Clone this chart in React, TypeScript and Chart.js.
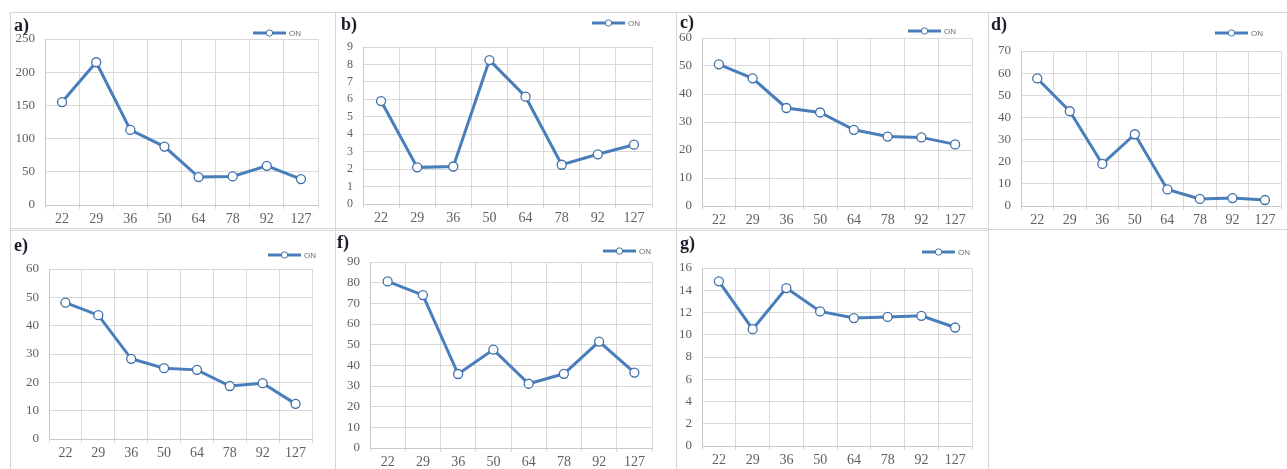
import React, { useEffect, useRef } from "react";
import { Chart, registerables } from "chart.js";

Chart.register(...registerables);

// Shared category axis and series name
const categories = ["22", "29", "36", "50", "64", "78", "92", "127"];
const seriesName = "ON";

// Series values, one array per panel
const valuesA = [155, 215, 113, 88, 42, 43, 59, 39];
const valuesB = [5.9, 2.1, 2.15, 8.25, 6.15, 2.25, 2.85, 3.4];
const valuesC = [50.6, 45.6, 35.0, 33.4, 27.2, 24.8, 24.5, 22.0];
const valuesD = [57.6, 42.8, 19.0, 32.4, 7.5, 3.2, 3.6, 2.7];
const valuesE = [48.1, 43.7, 28.3, 25.0, 24.4, 18.7, 19.7, 12.4];
const valuesF = [80.6, 74.0, 35.8, 47.6, 31.1, 35.9, 51.5, 36.5];
const valuesG = [14.8, 10.5, 14.2, 12.1, 11.5, 11.6, 11.7, 10.65];

const panelLabels = ["a)", "b)", "c)", "d)", "e)", "f)", "g)"];
const panelValues = [valuesA, valuesB, valuesC, valuesD, valuesE, valuesF, valuesG];
const axisMax = [250, 9, 60, 70, 60, 90, 16];
const axisStep = [50, 1, 10, 10, 10, 10, 2];

// Page geometry of each panel: box, plot area [left, top, right, bottom],
// legend start point and panel label baseline
type Geo = {
  x: number; y: number; w: number; h: number;
  plot: [number, number, number, number];
  legend: [number, number];
  label: [number, number];
};

const geometry: Geo[] = [
  { x: 10, y: 12, w: 325, h: 217, plot: [45, 39, 318, 205], legend: [253, 33], label: [14, 31] },
  { x: 335, y: 12, w: 341, h: 217, plot: [363, 47, 652, 204], legend: [592, 23], label: [341, 30] },
  { x: 676, y: 12, w: 312, h: 217, plot: [702, 38, 972, 206], legend: [908, 31], label: [680, 28] },
  { x: 988, y: 12, w: 299, h: 217, plot: [1021, 51, 1282, 206], legend: [1215, 33], label: [991, 30] },
  { x: 10, y: 230, w: 325, h: 239, plot: [49, 269, 312, 439], legend: [268, 255], label: [14, 251] },
  { x: 335, y: 230, w: 341, h: 239, plot: [370, 262, 652, 448], legend: [603, 251], label: [337, 248] },
  { x: 676, y: 230, w: 312, h: 239, plot: [702, 268, 972, 446], legend: [922, 252], label: [680, 249] },
];

const LINE = "#4a7ebb";
const MARKER_EDGE = "#3f6fa8";
const GRID = "#d9d9d9";
const TICK = "#5f5f5f";

function makeConfig(i: number): any {
  const g = geometry[i];
  const [pl, pt, pr, pb] = g.plot;
  const padLeft = 2;
  const yAxisW = pl - g.x - padLeft;
  const padTop = pt - g.y;
  const padRight = g.x + g.w - pr;
  const xAxisH = g.y + g.h - pb;

  const panelDecor = {
    id: "panelDecor",
    afterDraw(chart: any) {
      const ctx = chart.ctx as CanvasRenderingContext2D;
      ctx.save();
      // panel label
      ctx.font = "bold 18px 'Liberation Serif', serif";
      ctx.fillStyle = "#1c1c2c";
      ctx.textAlign = "left";
      ctx.textBaseline = "alphabetic";
      ctx.fillText(panelLabels[i], g.label[0] - g.x, g.label[1] - g.y);
      // legend entry: line with marker, then series name
      const lx = g.legend[0] - g.x;
      const ly = g.legend[1] - g.y;
      ctx.strokeStyle = LINE;
      ctx.lineWidth = 3;
      ctx.beginPath();
      ctx.moveTo(lx, ly);
      ctx.lineTo(lx + 33, ly);
      ctx.stroke();
      ctx.beginPath();
      ctx.arc(lx + 16.5, ly, 3.2, 0, Math.PI * 2);
      ctx.fillStyle = "#ffffff";
      ctx.fill();
      ctx.lineWidth = 1;
      ctx.strokeStyle = MARKER_EDGE;
      ctx.stroke();
      ctx.font = "8px 'Liberation Sans', sans-serif";
      ctx.fillStyle = "#707070";
      ctx.textBaseline = "middle";
      ctx.fillText(seriesName, lx + 36, ly + 0.5);
      ctx.restore();
    },
  };

  return {
    type: "line",
    data: {
      labels: categories,
      datasets: [
        {
          label: seriesName,
          data: panelValues[i],
          borderColor: LINE,
          borderWidth: 3,
          tension: 0,
          pointRadius: 4.5,
          pointBorderWidth: 1.3,
          pointBackgroundColor: "#ffffff",
          pointBorderColor: MARKER_EDGE,
        },
      ],
    },
    options: {
      animation: false,
      responsive: false,
      maintainAspectRatio: false,
      devicePixelRatio: 1,
      layout: { padding: { left: padLeft, top: padTop, right: padRight, bottom: 0 } },
      plugins: {
        legend: { display: false },
        tooltip: { enabled: false },
        title: { display: false },
      },
      scales: {
        x: {
          type: "category",
          offset: true,
          afterFit: (s: any) => { s.height = xAxisH; },
          grid: { offset: true, color: GRID, drawTicks: true, tickLength: 4, tickColor: GRID },
          border: { color: "#c8c8c8" },
          ticks: {
            color: TICK,
            font: { family: "'Liberation Serif', serif", size: 14 },
            padding: 2,
            maxRotation: 0,
            autoSkip: false,
          },
        },
        y: {
          min: 0,
          max: axisMax[i],
          afterFit: (s: any) => { s.width = yAxisW; },
          grid: { color: GRID, drawTicks: false },
          border: { color: "#c8c8c8" },
          ticks: {
            stepSize: axisStep[i],
            color: TICK,
            font: { family: "'Liberation Serif', serif", size: i === 1 ? 12 : 13 },
            padding: 10,
          },
        },
      },
    },
    plugins: [panelDecor],
  };
}

function Panel({ index }: { index: number }) {
  const ref = useRef<HTMLCanvasElement | null>(null);
  const g = geometry[index];
  useEffect(() => {
    if (!ref.current) return;
    const chart = new Chart(ref.current, makeConfig(index));
    return () => chart.destroy();
  }, [index]);
  return (
    <canvas
      ref={ref}
      width={g.w}
      height={g.h}
      style={{ position: "absolute", left: g.x, top: g.y, width: g.w, height: g.h }}
    />
  );
}

// Thin frame lines around the panels
const frameLines: { x: number; y: number; w: number; h: number }[] = [
  { x: 10, y: 12, w: 1277, h: 1 },
  { x: 10, y: 228, w: 978, h: 1 },
  { x: 10, y: 230, w: 978, h: 1 },
  { x: 988, y: 229, w: 299, h: 1 },
  { x: 10, y: 12, w: 1, h: 457 },
  { x: 335, y: 12, w: 1, h: 457 },
  { x: 676, y: 12, w: 1, h: 457 },
  { x: 988, y: 12, w: 1, h: 457 },
];

export default function App() {
  return (
    <div style={{ position: "absolute", left: 0, top: 0, width: 1287, height: 469, background: "#ffffff", overflow: "hidden" }}>
      {frameLines.map((f, k) => (
        <div
          key={k}
          style={{ position: "absolute", left: f.x, top: f.y, width: f.w, height: f.h, background: "#d6d6d6" }}
        />
      ))}
      {geometry.map((_, i) => (
        <Panel key={i} index={i} />
      ))}
    </div>
  );
}
